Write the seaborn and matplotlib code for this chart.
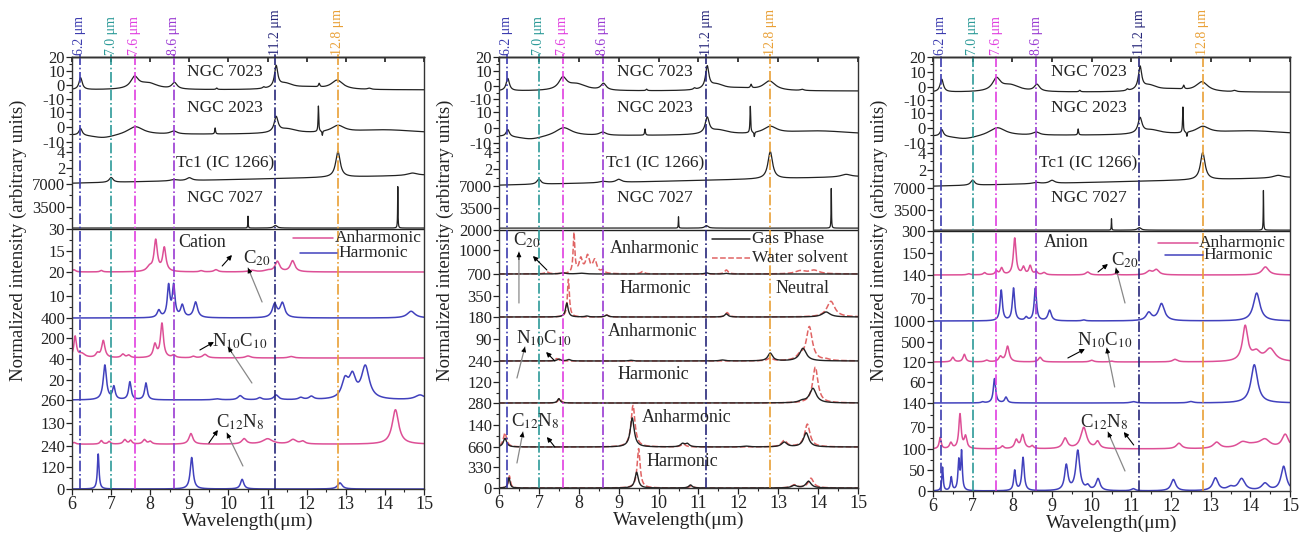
import numpy as np
import matplotlib
matplotlib.use("Agg")
import matplotlib.pyplot as plt
import seaborn as sns

sns.set_theme(style="ticks")
plt.rcParams["font.family"] = ["Liberation Serif", "DejaVu Serif"]
plt.rcParams["mathtext.fontset"] = "stix"

# ---------------- DATA ----------------
wavelength = np.linspace(6, 15, 4501)

# observed spectra: (centre um, height, half width)
ngc7023_base = -3.5
ngc7023_peaks = [(6.22, 8.5, 0.05), (7.6, 8.0, 0.12), (7.95, 4.5, 0.3), (8.62, 4.5, 0.08),
                 (9.7, 1.0, 0.02), (11.22, 15.0, 0.05), (11.45, 4.0, 0.25), (12.05, 1.5, 0.4),
                 (12.32, 2.5, 0.02), (12.78, 6.5, 0.18), (10.9, 1.0, 0.03), (13.6, 0.8, 0.05)]
ngc2023_base = -5.0
ngc2023_peaks = [(6.22, 4.5, 0.05), (6.8, -2.5, 0.4), (7.62, 5.5, 0.25), (8.6, 2.0, 0.1),
                 (9.66, 4.0, 0.012), (11.22, 10.0, 0.06), (11.5, 3.0, 0.3), (12.3, 17.0, 0.01),
                 (12.4, -3.0, 0.01), (12.8, 4.5, 0.2), (14.0, 3.0, 1.2)]
tc1_base = (0.1, 1.1)
tc1_peaks = [(7.0, 0.6, 0.06), (8.6, 0.15, 0.1), (9.0, 0.35, 0.08), (12.8, 3.2, 0.07), (14.7, 0.3, 0.15)]
ngc7027_base = 300.0
ngc7027_peaks = [(10.5, 1800, 0.006), (14.33, 6300, 0.006), (11.2, 400, 0.05)]

# Cation (panel 1)
cat_c20_anh = [(6.05, 1.5, 0.05), (6.75, 1.0, 0.04), (7.98, 3.0, 0.08), (8.14, 21, 0.05), (8.36, 16, 0.05),
               (9.3, 0.8, 0.05), (9.68, 1.5, 0.06), (10.6, 1.0, 0.1), (11.0, 1.0, 0.1), (11.25, 7.0, 0.07),
               (11.64, 7.5, 0.07)]
cat_c20_har = [(8.22, 3.0, 0.05), (8.47, 13, 0.04), (8.6, 13, 0.04), (8.82, 5.0, 0.05), (9.16, 6.5, 0.06),
               (11.18, 5.5, 0.07), (11.38, 6.0, 0.07), (14.67, 2.8, 0.12)]
cat_n10_anh = [(6.08, 210, 0.04), (6.25, 40, 0.1), (6.65, 40, 0.05), (6.8, 170, 0.05), (7.3, 35, 0.05),
               (7.45, 25, 0.05), (8.12, 130, 0.05), (8.3, 340, 0.045), (8.6, 25, 0.05), (9.1, 15, 0.05),
               (9.4, 35, 0.07), (10.5, 20, 0.08), (11.6, 15, 0.08)]
cat_n10_har = [(6.84, 33, 0.05), (7.07, 12, 0.04), (7.48, 17, 0.04), (7.89, 16, 0.04), (9.7, 1, 0.1),
               (10.3, 4, 0.07), (10.8, 2, 0.06), (11.22, 4.5, 0.07), (11.85, 2, 0.07), (12.12, 3, 0.07),
               (12.98, 17, 0.1), (13.17, 20, 0.1), (13.5, 31, 0.12), (14.9, 4.5, 0.15)]
cat_c12_anh_base = 10.0
cat_c12_anh = [(6.05, 10, 0.05), (6.75, 20, 0.04), (6.95, 15, 0.04), (7.35, 25, 0.05), (7.5, 20, 0.04),
               (7.85, 25, 0.05), (8.0, 15, 0.05), (9.04, 60, 0.06), (10.4, 30, 0.07), (11.0, 30, 0.15),
               (11.65, 25, 0.1), (11.9, 15, 0.07), (14.27, 195, 0.1)]
cat_c12_har = [(6.67, 200, 0.025), (9.06, 180, 0.045), (10.35, 55, 0.05), (12.85, 35, 0.07)]

# Neutral (panel 2): gas phase / water solvent
neu_c20_anh_gas = [(7.6, 60, 0.08), (8.05, 40, 0.1), (11.2, 60, 0.05), (11.7, 30, 0.05)]
neu_c20_anh_wat = [(7.2, 100, 0.05), (7.88, 2000, 0.025), (8.05, 700, 0.05), (8.22, 850, 0.06),
                   (8.4, 650, 0.06), (8.6, 150, 0.05), (9.6, 120, 0.05), (11.7, 200, 0.05),
                   (13.55, 150, 0.15), (13.9, 180, 0.15)]
neu_c20_har_gas = [(7.7, 220, 0.04), (8.2, 15, 0.05), (8.7, 30, 0.05), (11.7, 50, 0.05), (14.2, 80, 0.12)]
neu_c20_har_wat = [(7.74, 600, 0.03), (8.7, 30, 0.05), (11.72, 70, 0.05), (14.32, 250, 0.12)]
neu_n10_anh_gas = [(7.5, 8, 0.05), (7.75, 6, 0.05), (9.3, 3, 0.05), (11.6, 4, 0.08), (12.8, 32, 0.07),
                   (13.62, 52, 0.1)]
neu_n10_anh_wat = [(7.45, 10, 0.05), (12.8, 12, 0.07), (13.55, 20, 0.1), (13.78, 138, 0.09), (14.2, 5, 0.1)]
neu_n10_har_gas = [(7.5, 25, 0.04), (13.6, 10, 0.1), (13.87, 83, 0.1)]
neu_n10_har_wat = [(7.52, 28, 0.04), (13.93, 205, 0.08)]
neu_c12_anh_gas = [(6.15, 55, 0.05), (9.34, 185, 0.06), (10.6, 20, 0.06), (10.72, 20, 0.06),
                   (12.2, 5, 0.1), (13.15, 30, 0.08), (13.7, 90, 0.08)]
neu_c12_anh_wat = [(6.15, 90, 0.05), (9.36, 265, 0.06), (10.62, 20, 0.06), (13.15, 40, 0.08),
                   (13.73, 145, 0.08)]
neu_c12_har_gas = [(6.25, 170, 0.03), (9.45, 260, 0.05), (10.8, 50, 0.05), (13.4, 40, 0.08),
                   (13.76, 110, 0.08)]
neu_c12_har_wat = [(6.26, 200, 0.03), (9.5, 650, 0.045), (10.82, 40, 0.05), (13.4, 50, 0.08),
                   (13.82, 160, 0.08)]

# Anion (panel 3)
ani_c20_anh = [(6.9, 8, 0.05), (7.3, 15, 0.04), (7.6, 25, 0.04), (7.73, 45, 0.04), (8.06, 250, 0.04),
               (8.28, 50, 0.04), (8.45, 60, 0.04), (8.6, 20, 0.04), (8.8, 15, 0.05), (9.9, 20, 0.06),
               (10.6, 8, 0.05), (11.45, 25, 0.08), (11.63, 35, 0.08), (14.38, 55, 0.1)]
ani_c20_har = [(7.72, 93, 0.035), (8.03, 99, 0.035), (8.35, 10, 0.04), (8.58, 99, 0.035), (8.94, 32, 0.05),
               (9.8, 3, 0.05), (11.44, 24, 0.08), (11.76, 52, 0.09), (14.16, 85, 0.1)]
ani_n10_anh = [(6.5, 110, 0.04), (6.79, 180, 0.04), (7.35, 40, 0.05), (7.7, 120, 0.05), (7.88, 370, 0.05),
               (8.7, 110, 0.05), (10.0, 40, 0.06), (10.5, 20, 0.05), (12.1, 60, 0.07), (13.87, 830, 0.08),
               (14.15, 200, 0.12), (14.5, 300, 0.15)]
ani_n10_har = [(7.25, 3, 0.04), (7.55, 73, 0.035), (7.84, 17, 0.04), (11.05, 4, 0.08), (12.5, 4, 0.08),
               (14.1, 115, 0.1)]
ani_c12_anh = [(6.18, 33, 0.03), (6.45, 17, 0.04), (6.68, 100, 0.035), (6.82, 35, 0.04), (7.75, 8, 0.04),
               (8.1, 25, 0.05), (8.26, 40, 0.05), (8.5, 8, 0.04), (9.33, 30, 0.07), (9.8, 62, 0.09),
               (10.15, 20, 0.06), (12.2, 16, 0.08), (13.15, 18, 0.1), (13.8, 15, 0.15), (14.1, 10, 0.3),
               (14.37, 22, 0.15), (14.88, 40, 0.1)]
ani_c12_har = [(6.24, 56, 0.02), (6.46, 32, 0.025), (6.65, 70, 0.025), (6.72, 90, 0.022), (8.06, 48, 0.03),
               (8.27, 79, 0.035), (9.36, 60, 0.05), (9.65, 95, 0.06), (9.9, 10, 0.05), (10.16, 28, 0.06),
               (11.05, 5, 0.06), (12.06, 27, 0.07), (13.12, 30, 0.08), (13.5, 8, 0.1), (13.78, 28, 0.1),
               (14.37, 17, 0.1), (14.84, 58, 0.08)]

# tick labels
p1_ticklabels = ['20', '10', '0', '-10', '10', '0', '-10', '4', '2', '7000', '3500', '30', '15', '20', '10',
                 '400', '200', '40', '20', '260', '130', '240', '120', '0']
p2_ticklabels = ['20', '10', '0', '-10', '10', '0', '-10', '4', '2', '7000', '3500', '2000', '1000', '700',
                 '350', '180', '90', '240', '120', '280', '140', '660', '330', '0']
p3_ticklabels = ['20', '10', '0', '-10', '10', '0', '-10', '4', '2', '7000', '3500', '300', '150', '140',
                 '70', '1000', '500', '120', '60', '140', '70', '100', '50', '0']
feature_lines = [6.2, 7.0, 7.6, 8.6, 11.2, 12.8]
x_ticks = list(range(6, 16))

# ---------------- LAYOUT / STYLE ----------------
W, H = 1299, 537
PINK, BLUE, WATER = "#dd4f96", "#4141bd", "#e06464"
feat_colors = ["#3c3caf", "#2c9a98", "#e03ee0", "#9a3ad2", "#27277a", "#e9a036"]
panels = [
    dict(l=72, r=424, t=57, b=489, sep=229, ticks=[57, 71, 85, 99, 112, 127, 142, 152, 168, 184, 207, 229, 251,
         272, 296, 318, 338, 359, 380, 400, 423, 446, 467, 489], labels=p1_ticklabels,
         obs=[(85, 1.4), (127, 1.5), (184, 8.0), (230, 0.00657)],
         low=[(272, 1.47), (318, 2.4), (358, 0.1), (400, 1.05), (446, 0.177), (489, 0.175)]),
    dict(l=499, r=858, t=57, b=488, sep=230, ticks=[57, 71, 86, 99, 112, 128, 143, 152, 169, 186, 208, 230, 250,
         274, 296, 317, 339, 361, 382, 403, 425, 447, 467, 488], labels=p2_ticklabels,
         obs=[(86, 1.45), (128, 1.55), (186, 8.5), (230, 0.00629)],
         low=[(274, 0.02), (317, 0.0629), (361, 0.244), (403, 0.175), (447, 0.157), (488, 0.0606)]),
    dict(l=933, r=1290, t=57, b=491, sep=231, ticks=[57, 72, 87, 100, 113, 128, 143, 153, 170, 188, 210, 231, 253,
         275, 298, 321, 342, 362, 382, 403, 427, 449, 470, 491], labels=p3_ticklabels,
         obs=[(87, 1.5), (128, 1.5), (187, 8.5), (232, 0.00629)],
         low=[(275, 0.1467), (321, 0.3286), (362, 0.042), (403, 0.333), (449, 0.343), (491, 0.42)]),
]


def spectrum(peaks, base=0.0):
    if isinstance(base, tuple):
        y = base[0] + (base[1] - base[0]) * (wavelength - 6) / 9.0
    else:
        y = np.full_like(wavelength, base)
    for c, h, w in peaks:
        y = y + h * w ** 2 / ((wavelength - c) ** 2 + w ** 2)
    return y


def draw(ax, values, zero_px, scale, color, ls="-", lw=1.0):
    sns.lineplot(x=wavelength, y=zero_px - values * scale, ax=ax, color=color, lw=lw,
                 linestyle=ls, estimator=None, sort=False)


def pointer(ax, tail, head, color):
    if color == "black":
        ax.annotate("", xy=head, xytext=tail, arrowprops=dict(arrowstyle="-|>", color="black", lw=0.8,
                    mutation_scale=7, shrinkA=0, shrinkB=0))
    else:
        ax.annotate("", xy=head, xytext=tail, arrowprops=dict(arrowstyle="-", color=color, lw=0.9,
                    shrinkA=0, shrinkB=0))
        near = (head[0] + 0.15 * (tail[0] - head[0]), head[1] + 0.15 * (tail[1] - head[1]))
        ax.annotate("", xy=head, xytext=near, arrowprops=dict(arrowstyle="-|>", color="black", lw=0.6,
                    mutation_scale=7, shrinkA=0, shrinkB=0))


fig = plt.figure(figsize=(W / 100, H / 100), dpi=100)
obs_spectra = [spectrum(ngc7023_peaks, ngc7023_base), spectrum(ngc2023_peaks, ngc2023_base),
               spectrum(tc1_peaks, tc1_base), spectrum(ngc7027_peaks, ngc7027_base)]
obs_names = ["NGC 7023", "NGC 2023", "Tc1 (IC 1266)", "NGC 7027"]
obs_label_rows = [72, 108, 163, 198]

lower_sets = [
    [(spectrum(cat_c20_anh), PINK), (spectrum(cat_c20_har), BLUE), (spectrum(cat_n10_anh), PINK),
     (spectrum(cat_n10_har), BLUE), (spectrum(cat_c12_anh, cat_c12_anh_base), PINK), (spectrum(cat_c12_har), BLUE)],
    None,
    [(spectrum(ani_c20_anh), PINK), (spectrum(ani_c20_har), BLUE), (spectrum(ani_n10_anh), PINK),
     (spectrum(ani_n10_har), BLUE), (spectrum(ani_c12_anh), PINK), (spectrum(ani_c12_har), BLUE)],
]
neutral_pairs = [(neu_c20_anh_gas, neu_c20_anh_wat), (neu_c20_har_gas, neu_c20_har_wat),
                 (neu_n10_anh_gas, neu_n10_anh_wat), (neu_n10_har_gas, neu_n10_har_wat),
                 (neu_c12_anh_gas, neu_c12_anh_wat), (neu_c12_har_gas, neu_c12_har_wat)]

axes = []
for i, p in enumerate(panels):
    ax = fig.add_axes([p["l"] / W, 1 - p["b"] / H, (p["r"] - p["l"]) / W, (p["b"] - p["t"]) / H])
    axes.append(ax)
    ax.set_xlim(6, 15)
    ax.set_ylim(p["b"], p["t"])
    # observed
    for spec, (z, s) in zip(obs_spectra, p["obs"]):
        draw(ax, spec, z, s, "#222222", lw=0.9)
    for name, row in zip(obs_names, obs_label_rows):
        ax.text(9.92, row, name, ha="center", va="center", fontsize=12.5, color="#222222")
    # computed
    if lower_sets[i] is not None:
        for (spec, col), (z, s) in zip(lower_sets[i], p["low"]):
            draw(ax, spec, z, s, col, lw=1.1)
    else:
        for (gas, wat), (z, s) in zip(neutral_pairs, p["low"]):
            draw(ax, spectrum(wat), z, s, WATER, ls="--", lw=1.1)
            draw(ax, spectrum(gas), z, s, "#222222", lw=1.0)
    ax.axhline(p["sep"], color="#222222", lw=1.0)
    # feature lines
    for v, c in zip(feature_lines, feat_colors):
        ax.axvline(v, color=c, ls="-.", lw=1.2, ymax=1 + 3 / (p["b"] - p["t"]), clip_on=False)
        ax.text(v, p["t"] - 2, f"{v} μm", rotation=90, ha="center", va="bottom", color=c, fontsize=10)
    # axes styling
    ax.set_yticks(p["ticks"])
    ax.set_yticklabels(p["labels"], fontsize=12)
    mids = [(a + b) / 2 for a, b in zip(p["ticks"][:-1], p["ticks"][1:])]
    ax.set_yticks(mids, minor=True)
    ax.set_xticks(x_ticks)
    ax.set_xticklabels([str(t) for t in x_ticks], fontsize=13)
    ax.set_xticks(np.arange(6.5, 15, 1.0), minor=True)
    ax.tick_params(axis="both", which="major", length=4, width=0.9, direction="out", pad=1, colors="#222222")
    ax.tick_params(axis="both", which="minor", length=2.2, width=0.8, direction="out")
    sec = ax.secondary_xaxis("top")
    sec.set_xticks(x_ticks)
    sec.tick_params(direction="in", length=3.5, labeltop=False)
    for sp in list(ax.spines.values()) + list(sec.spines.values()):
        sp.set_color("#333333")
        sp.set_linewidth(1.0)
        sp.set_visible(True)
    ax.set_xlabel("Wavelength(μm)", fontsize=14, labelpad=0, color="#222222")
    ax.set_ylabel("")
    fig.text((p["l"] - 54) / W, 1 - 240 / H, "Normalized intensity (arbitrary units)", rotation=90,
             ha="center", va="center", fontsize=13.5, color="#222222")

C20, N10C10, C12N8 = "C$_{20}$", "N$_{10}$C$_{10}$", "C$_{12}$N$_{8}$"
fs = 13.5
lfs = 12.5

# panel 1: cation
ax = axes[0]
ax.text(9.32, 243, "Cation", ha="center", va="center", fontsize=13)
ax.text(10.73, 258, C20, ha="center", va="center", fontsize=fs)
pointer(ax, (9.84, 266), (10.09, 255), "black")
pointer(ax, (10.86, 302), (10.5, 268), "#888888")
ax.text(10.3, 341, N10C10, ha="center", va="center", fontsize=fs)
pointer(ax, (9.27, 350), (9.63, 342), "black")
pointer(ax, (10.6, 383), (9.99, 347), "#888888")
ax.text(10.3, 422, C12N8, ha="center", va="center", fontsize=fs)
pointer(ax, (9.5, 443), (9.73, 430), "black")
pointer(ax, (10.37, 466), (9.96, 433), "#888888")
ax.plot([11.65, 12.68], [238, 238], color=PINK, lw=1.1)
ax.plot([11.83, 12.78], [253, 253], color=BLUE, lw=1.1)
ax.text(12.72, 238, "Anharmonic", va="center", fontsize=lfs)
ax.text(12.8, 253, "Harmonic", va="center", fontsize=lfs)

# panel 2: neutral
ax = axes[1]
ax.text(6.7, 240, C20, ha="center", va="center", fontsize=fs)
pointer(ax, (6.5, 303), (6.5, 252), "#888888")
pointer(ax, (7.2, 270), (6.85, 256), "black")
for xx, yy, t in [(9.91, 248, "Anharmonic"), (9.93, 288, "Harmonic"), (13.6, 288, "Neutral"),
                  (9.86, 331, "Anharmonic"), (9.86, 374, "Harmonic"), (10.71, 417, "Anharmonic"),
                  (10.61, 461, "Harmonic")]:
    ax.text(xx, yy, t, ha="center", va="center", fontsize=13)
ax.text(7.13, 338, N10C10, ha="center", va="center", fontsize=fs)
pointer(ax, (6.45, 378), (6.65, 347), "#888888")
pointer(ax, (7.4, 361), (7.18, 352), "black")
ax.text(6.9, 421, C12N8, ha="center", va="center", fontsize=fs)
pointer(ax, (6.45, 463), (6.6, 432), "#888888")
pointer(ax, (7.4, 447), (7.2, 437), "black")
ax.plot([11.34, 12.29], [239, 239], color="#222222", lw=1.1)
ax.plot([11.34, 12.29], [258, 258], color=WATER, lw=1.1, ls="--")
ax.text(12.34, 239, "Gas Phase", va="center", fontsize=lfs)
ax.text(12.34, 258, "Water solvent", va="center", fontsize=lfs)

# panel 3: anion
ax = axes[2]
ax.text(9.35, 243, "Anion", ha="center", va="center", fontsize=13)
ax.text(10.84, 260, C20, ha="center", va="center", fontsize=fs)
pointer(ax, (10.16, 272), (10.41, 264), "black")
pointer(ax, (10.84, 303), (10.61, 268), "#888888")
ax.text(10.33, 340, N10C10, ha="center", va="center", fontsize=fs)
pointer(ax, (9.4, 358), (9.83, 349), "black")
pointer(ax, (10.58, 387), (10.38, 348), "#888888")
ax.text(10.33, 422, C12N8, ha="center", va="center", fontsize=fs)
pointer(ax, (11.06, 445), (10.81, 432), "black")
pointer(ax, (10.84, 471), (10.41, 432), "#888888")
ax.plot([11.67, 12.68], [243, 243], color=PINK, lw=1.1)
ax.plot([11.84, 12.8], [255, 255], color=BLUE, lw=1.1)
ax.text(12.7, 243, "Anharmonic", va="center", fontsize=lfs)
ax.text(12.82, 255, "Harmonic", va="center", fontsize=lfs)

fig.savefig("out.png", dpi=100, facecolor="white")
